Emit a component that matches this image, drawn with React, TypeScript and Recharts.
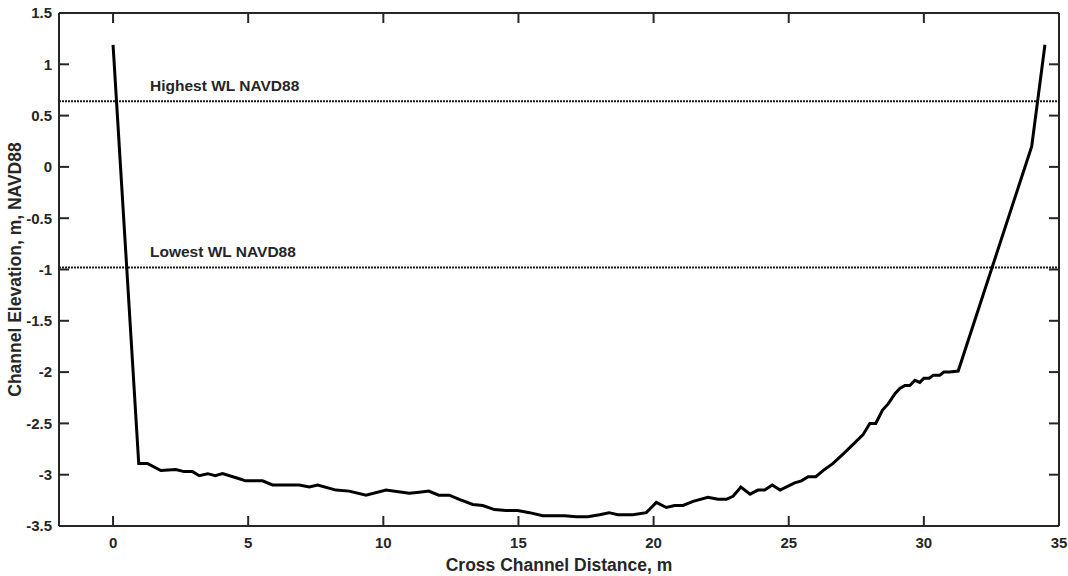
import React from 'react';
import {
  LineChart,
  Line,
  XAxis,
  YAxis,
  ReferenceLine,
} from 'recharts';

// cross-section profile
const distance = [
  0, 0.95, 1.27, 1.77, 2.32, 2.63, 2.94, 3.19, 3.5, 3.78, 4.05, 4.67, 4.91, 5.53, 5.9, 6.89,
  7.26, 7.57, 8.25, 8.74, 9.36, 10.1, 10.96, 11.33, 11.68, 12.05, 12.44, 12.81, 13.31, 13.68,
  14.11, 14.54, 14.97, 15.41, 15.9, 16.7, 17.14, 17.57, 18.0, 18.35, 18.68, 19.23, 19.73, 20.1,
  20.47, 20.78, 21.09, 21.46, 22.01, 22.38, 22.69, 22.94, 23.23, 23.57, 23.86, 24.11, 24.39,
  24.68, 25.22, 25.47, 25.72, 26.0, 26.27, 26.64, 27.01, 27.44, 27.75, 28.0, 28.22, 28.47,
  28.68, 28.93, 29.11, 29.3, 29.48, 29.67, 29.85, 30.0, 30.2, 30.35, 30.59, 30.74, 30.96,
  31.27, 33.99, 34.48,
];

const elevation = [
  1.19, -2.89, -2.89, -2.96, -2.95, -2.97, -2.97, -3.01, -2.99, -3.01, -2.99, -3.04, -3.06,
  -3.06, -3.1, -3.1, -3.12, -3.1, -3.15, -3.16, -3.2, -3.15, -3.18, -3.17, -3.16, -3.2, -3.2,
  -3.24, -3.29, -3.3, -3.34, -3.35, -3.35, -3.37, -3.4, -3.4, -3.41, -3.41, -3.39, -3.37,
  -3.39, -3.39, -3.37, -3.27, -3.32, -3.3, -3.3, -3.26, -3.22, -3.24, -3.24, -3.21, -3.12,
  -3.19, -3.15, -3.15, -3.1, -3.15, -3.08, -3.06, -3.02, -3.02, -2.96, -2.89, -2.8, -2.69,
  -2.61, -2.5, -2.5, -2.37, -2.31, -2.21, -2.16, -2.13, -2.13, -2.08, -2.1, -2.06, -2.06,
  -2.03, -2.03, -2, -2, -1.99, 0.2, 1.19,
];

const highestWL = 0.64;
const lowestWL = -0.98;

const xTicks = [0, 5, 10, 15, 20, 25, 30, 35];
const yTicks = [-3.5, -3, -2.5, -2, -1.5, -1, -0.5, 0, 0.5, 1, 1.5];

const data = distance.map((x, i) => ({ x, y: elevation[i] }));

const W = 1068;
const H = 576;
const MARGIN = { top: 13, right: 9, bottom: 0, left: 0 };
const Y_AXIS_W = 59;
const X_AXIS_H = 50;
const PLOT_LEFT = MARGIN.left + Y_AXIS_W;
const PLOT_RIGHT = W - MARGIN.right;
const PLOT_TOP = MARGIN.top;
const PLOT_BOTTOM = H - X_AXIS_H;
const TICK = 10;

const INK = '#262626';
const FONT = '"Liberation Sans", Arial, sans-serif';

const XTick = ({ x, y, payload }: any) => (
  <g>
    <line x1={x} x2={x} y1={PLOT_BOTTOM} y2={PLOT_BOTTOM - TICK} stroke={INK} strokeWidth={2} />
    <line x1={x} x2={x} y1={PLOT_TOP} y2={PLOT_TOP + TICK} stroke={INK} strokeWidth={2} />
    <text x={x} y={y} dy="0.71em" textAnchor="middle" fontSize={15} fontWeight="bold" fill={INK} fontFamily={FONT}>
      {payload.value}
    </text>
  </g>
);

const YTick = ({ x, y, payload }: any) => (
  <g>
    <line x1={PLOT_LEFT} x2={PLOT_LEFT + TICK} y1={y} y2={y} stroke={INK} strokeWidth={2} />
    <line x1={PLOT_RIGHT} x2={PLOT_RIGHT - TICK} y1={y} y2={y} stroke={INK} strokeWidth={2} />
    <text x={x} y={y} dy="0.355em" textAnchor="end" fontSize={15} fontWeight="bold" fill={INK} fontFamily={FONT}>
      {payload.value}
    </text>
  </g>
);

const wlLabel = (text: string) => ({ viewBox }: any) => (
  <text x={viewBox.x + 91} y={viewBox.y - 10} fontSize={15.5} fontWeight="bold" fill={INK} fontFamily={FONT}>
    {text}
  </text>
);

const App: React.FC = () => {
  return (
    <div style={{ position: 'absolute', left: 0, top: 0, width: W, height: H, background: '#fff' }}>
      <LineChart width={W} height={H} data={data} margin={MARGIN}>
        <XAxis
          type="number"
          dataKey="x"
          domain={[-2, 35]}
          ticks={xTicks}
          allowDataOverflow
          height={X_AXIS_H}
          tickSize={0}
          tickMargin={11}
          tickLine={false}
          axisLine={{ stroke: INK, strokeWidth: 2 }}
          tick={<XTick />}
          label={({ viewBox }: any) => (
            <text
              x={viewBox.x + viewBox.width / 2}
              y={571}
              textAnchor="middle"
              fontSize={17.5}
              fontWeight="bold"
              fill={INK}
              fontFamily={FONT}
            >
              Cross Channel Distance, m
            </text>
          )}
        />
        <YAxis
          type="number"
          domain={[-3.5, 1.5]}
          ticks={yTicks}
          allowDataOverflow
          width={Y_AXIS_W}
          tickSize={0}
          tickMargin={7}
          tickLine={false}
          axisLine={{ stroke: INK, strokeWidth: 2 }}
          tick={<YTick />}
          label={({ viewBox }: any) => {
            const cx = 15;
            const cy = viewBox.y + viewBox.height / 2;
            return (
              <text
                x={cx}
                y={cy}
                dy="0.355em"
                transform={`rotate(-90 ${cx} ${cy})`}
                textAnchor="middle"
                fontSize={17.5}
                fontWeight="bold"
                fill={INK}
                fontFamily={FONT}
              >
                Channel Elevation, m, NAVD88
              </text>
            );
          }}
        />
        <ReferenceLine y={1.5} stroke={INK} strokeWidth={2} />
        <ReferenceLine x={35} stroke={INK} strokeWidth={2} />
        <ReferenceLine
          y={highestWL}
          stroke="#1a1a1a"
          strokeWidth={2}
          strokeDasharray="2 1"
          label={wlLabel('Highest WL NAVD88')}
        />
        <ReferenceLine
          y={lowestWL}
          stroke="#1a1a1a"
          strokeWidth={2}
          strokeDasharray="2 1"
          label={wlLabel('Lowest WL NAVD88')}
        />
        <Line
          type="linear"
          dataKey="y"
          stroke="#000"
          strokeWidth={3}
          dot={false}
          isAnimationActive={false}
        />
      </LineChart>
    </div>
  );
};

export default App;
